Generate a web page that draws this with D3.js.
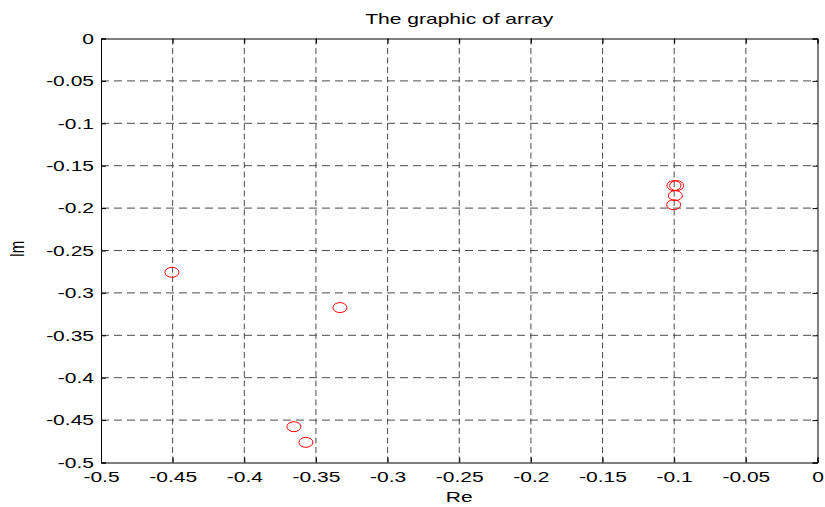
<!DOCTYPE html>
<html>
<head>
<meta charset="utf-8">
<script src="https://cdn.jsdelivr.net/npm/d3@7"></script>
<style>
  body { margin: 0; background: #fff; }
  svg text { font-family: "Liberation Sans", Arial, Helvetica, sans-serif; fill: #000; }
</style>
</head>
<body>
<div id="chart"></div>
<script>
// complex values of the array
const reValues = [-0.4505, -0.3333, -0.3654, -0.3570, -0.1002, -0.0983, -0.0992, -0.1004];
const imValues = [-0.2757, -0.3173, -0.4578, -0.4762, -0.1735, -0.1735, -0.1853, -0.1960];

const xTicks = [-0.5, -0.45, -0.4, -0.35, -0.3, -0.25, -0.2, -0.15, -0.1, -0.05, 0];
const yTicks = [-0.5, -0.45, -0.4, -0.35, -0.3, -0.25, -0.2, -0.15, -0.1, -0.05, 0];

const width = 825, height = 507;
const plotLeft = 101, plotRight = 817.5, plotTop = 38.5, plotBottom = 462.5;
const stretch = 1.4; // the picture is wider than tall, text too

const svg = d3.select('#chart').append('svg')
  .attr('width', width)
  .attr('height', height);

const x = d3.scaleLinear().domain([-0.5, 0]).range([plotLeft, plotRight]);
const y = d3.scaleLinear().domain([-0.5, 0]).range([plotBottom, plotTop]);

const fmt = d => d === 0 ? '0' : String(+d.toFixed(2));

// dashed grid
svg.append('g').selectAll('line')
  .data(xTicks.slice(1, -1))
  .enter().append('line')
  .attr('x1', d => x(d)).attr('x2', d => x(d))
  .attr('y1', plotTop).attr('y2', plotBottom)
  .attr('stroke', '#4a4a4a')
  .attr('stroke-dasharray', '6,3.5');

svg.append('g').selectAll('line')
  .data(yTicks.slice(1, -1))
  .enter().append('line')
  .attr('x1', plotLeft).attr('x2', plotRight)
  .attr('y1', d => y(d)).attr('y2', d => y(d))
  .attr('stroke', '#4a4a4a')
  .attr('stroke-dasharray', '8,5');

// axes, ticks pointing inward
svg.append('g')
  .attr('transform', `translate(0,${plotBottom})`)
  .call(d3.axisBottom(x).tickValues(xTicks).tickFormat(fmt).tickSize(-5).tickPadding(9));
svg.append('g')
  .attr('transform', `translate(${plotLeft},0)`)
  .call(d3.axisLeft(y).tickValues(yTicks).tickFormat(fmt).tickSize(-5).tickPadding(7));
svg.append('g')
  .attr('transform', `translate(0,${plotTop})`)
  .call(d3.axisTop(x).tickValues(xTicks).tickFormat('').tickSize(-5));
svg.append('g')
  .attr('transform', `translate(${plotRight},0)`)
  .call(d3.axisRight(y).tickValues(yTicks).tickFormat('').tickSize(-5));

svg.selectAll('.domain').attr('stroke', '#000');
svg.selectAll('.tick line').attr('stroke', '#000');
svg.selectAll('.tick text').attr('font-size', 15).attr('fill', '#000');

// points
svg.append('g').selectAll('ellipse')
  .data(reValues.map((r, i) => ({ re: r, im: imValues[i] })))
  .enter().append('ellipse')
  .attr('cx', d => x(d.re))
  .attr('cy', d => y(d.im))
  .attr('rx', 7)
  .attr('ry', 5)
  .attr('fill', 'none')
  .attr('stroke', '#f00')
  .attr('stroke-width', 1);

// labels
svg.append('text')
  .attr('class', 'lbl')
  .attr('x', (plotLeft + plotRight) / 2).attr('y', 24)
  .attr('text-anchor', 'middle')
  .attr('font-size', 15)
  .text('The graphic of array');

svg.append('text')
  .attr('class', 'lbl')
  .attr('x', (plotLeft + plotRight) / 2).attr('y', 501.5)
  .attr('text-anchor', 'middle')
  .attr('font-size', 15)
  .text('Re');

svg.append('text')
  .attr('transform', `translate(24,249) rotate(-90) scale(1,${stretch})`)
  .attr('text-anchor', 'middle')
  .attr('font-size', 15)
  .text('Im');

// widen the horizontal texts like in the picture
svg.selectAll('.tick text, .lbl').each(function() {
  const w = this.getComputedTextLength();
  if (w > 0) {
    d3.select(this)
      .attr('textLength', w * stretch)
      .attr('lengthAdjust', 'spacingAndGlyphs');
  }
});
</script>
</body>
</html>
